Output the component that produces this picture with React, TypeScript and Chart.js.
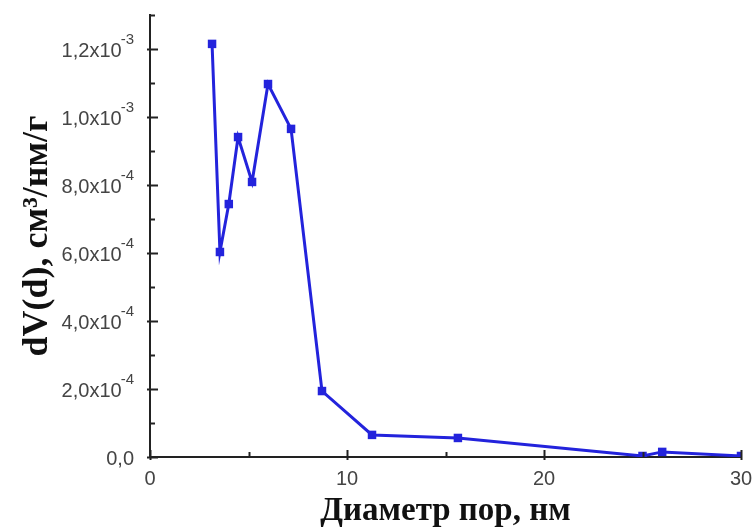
import React, { useEffect, useRef } from "react";
import { Chart, registerables } from "chart.js";

Chart.register(...registerables);

// ---- data ----
const poreDiameter = [3.15, 3.55, 4.0, 4.47, 5.18, 5.99, 7.16, 8.73, 11.27, 15.63, 25.0, 26.0, 30.0];
const dVd = [1.215e-3, 0.603e-3, 0.744e-3, 0.941e-3, 0.809e-3, 1.097e-3, 0.965e-3, 0.194e-3, 0.065e-3, 0.056e-3, 0.003e-3, 0.015e-3, 0.003e-3];

const yTickValues = [0, 2e-4, 4e-4, 6e-4, 8e-4, 1e-3, 1.2e-3];
const yTickMantissa = ["0,0", "2,0x10", "4,0x10", "6,0x10", "8,0x10", "1,0x10", "1,2x10"];
const yTickExponent = ["", "-4", "-4", "-4", "-4", "-3", "-3"];
const yMinorStep = 1e-4;
const xMinorStep = 5;

const xTitle = "Диаметр пор, нм";
const yTitle = "dV(d), см³/нм/г";

const axisPlugin = {
  id: "customAxis",
  afterDraw(chart: any) {
    const ctx = chart.ctx as CanvasRenderingContext2D;
    const xs = chart.scales.x;
    const ys = chart.scales.y;
    const left = chart.chartArea.left;
    const bottom = chart.chartArea.bottom;
    ctx.save();
    ctx.strokeStyle = "#222";
    ctx.lineWidth = 2;
    // y ticks
    for (let k = 0; k * yMinorStep <= ys.max + 1e-12; k++) {
      const v = k * yMinorStep;
      const py = Math.round(ys.getPixelForValue(v)) + 0.5;
      const major = k % 2 === 0;
      ctx.beginPath();
      ctx.moveTo(left - (major ? 3 : 1), py);
      ctx.lineTo(left + (major ? 8 : 5), py);
      ctx.stroke();
    }
    // x ticks
    for (let k = 0; k * xMinorStep <= xs.max + 1e-9; k++) {
      const v = k * xMinorStep;
      const px = Math.round(xs.getPixelForValue(v)) + 0.5;
      const major = k % 2 === 0;
      ctx.beginPath();
      ctx.moveTo(px, bottom + (major ? 3 : 1));
      ctx.lineTo(px, bottom - (major ? 7 : 5));
      ctx.stroke();
    }
    // y labels with superscripts
    ctx.fillStyle = "#444";
    ctx.textBaseline = "middle";
    const baseFont = "20px 'Liberation Sans', Arial, sans-serif";
    const expFont = "15px 'Liberation Sans', Arial, sans-serif";
    const rightEdge = left - 16;
    yTickValues.forEach((v, i) => {
      const py = ys.getPixelForValue(v) + 2;
      const exp = yTickExponent[i];
      ctx.font = expFont;
      const ew = exp ? ctx.measureText(exp).width : 0;
      if (exp) {
        ctx.textAlign = "right";
        ctx.fillText(exp, rightEdge, py - 11);
      }
      ctx.font = baseFont;
      ctx.textAlign = "right";
      ctx.fillText(yTickMantissa[i], rightEdge - ew + (exp ? 1 : 0), py);
    });
    ctx.restore();
  },
};

export default function App() {
  const ref = useRef<HTMLCanvasElement | null>(null);
  useEffect(() => {
    if (!ref.current) return;
    const chart = new Chart(ref.current, {
      type: "scatter",
      data: {
        datasets: [
          {
            data: poreDiameter.map((x, i) => ({ x, y: dVd[i] })),
            showLine: true,
            borderColor: "#2323dc",
            backgroundColor: "#2323dc",
            borderWidth: 3,
            pointStyle: "rect",
            pointRadius: 6,
            pointBorderWidth: 0,
          },
        ],
      },
      options: {
        responsive: false,
        animation: false,
        layout: { padding: { top: 15, right: 12, left: 0, bottom: 0 } },
        plugins: { legend: { display: false }, tooltip: { enabled: false } },
        scales: {
          x: {
            type: "linear",
            min: 0,
            max: 30,
            ticks: {
              stepSize: 10,
              color: "#444",
              font: { family: "'Liberation Sans', Arial, sans-serif", size: 20 },
              padding: 10,
              maxRotation: 0,
            },
            grid: { display: false, drawTicks: false },
            border: { display: true, color: "#222", width: 2 },
            title: {
              display: true,
              text: xTitle,
              color: "#111",
              font: { family: "'Liberation Serif', 'Times New Roman', serif", size: 33, weight: "bold", lineHeight: 1 },
              padding: { top: 0, bottom: 0 },
            },
            afterFit: (s: any) => {
              s.height = 71;
              s.paddingRight = 0;
              s.paddingLeft = 0;
            },
          },
          y: {
            type: "linear",
            min: 0,
            max: 1.3e-3,
            ticks: { display: false, stepSize: 1e-4 },
            grid: { display: false, drawTicks: false },
            border: { display: true, color: "#222", width: 2 },
            title: {
              display: true,
              text: yTitle,
              color: "#111",
              font: { family: "'Liberation Serif', 'Times New Roman', serif", size: 36, weight: "bold", lineHeight: 1.2 },
              padding: { top: 16, bottom: 0 },
            },
            afterFit: (s: any) => {
              s.width = 150;
              s.paddingTop = 0;
              s.paddingBottom = 0;
            },
          },
        },
      },
      plugins: [axisPlugin],
    } as any);
    return () => chart.destroy();
  }, []);
  return (
    <div style={{ position: "fixed", left: 0, top: 0, width: 753, height: 528, background: "#fff" }}>
      <canvas ref={ref} width={753} height={528} />
    </div>
  );
}
